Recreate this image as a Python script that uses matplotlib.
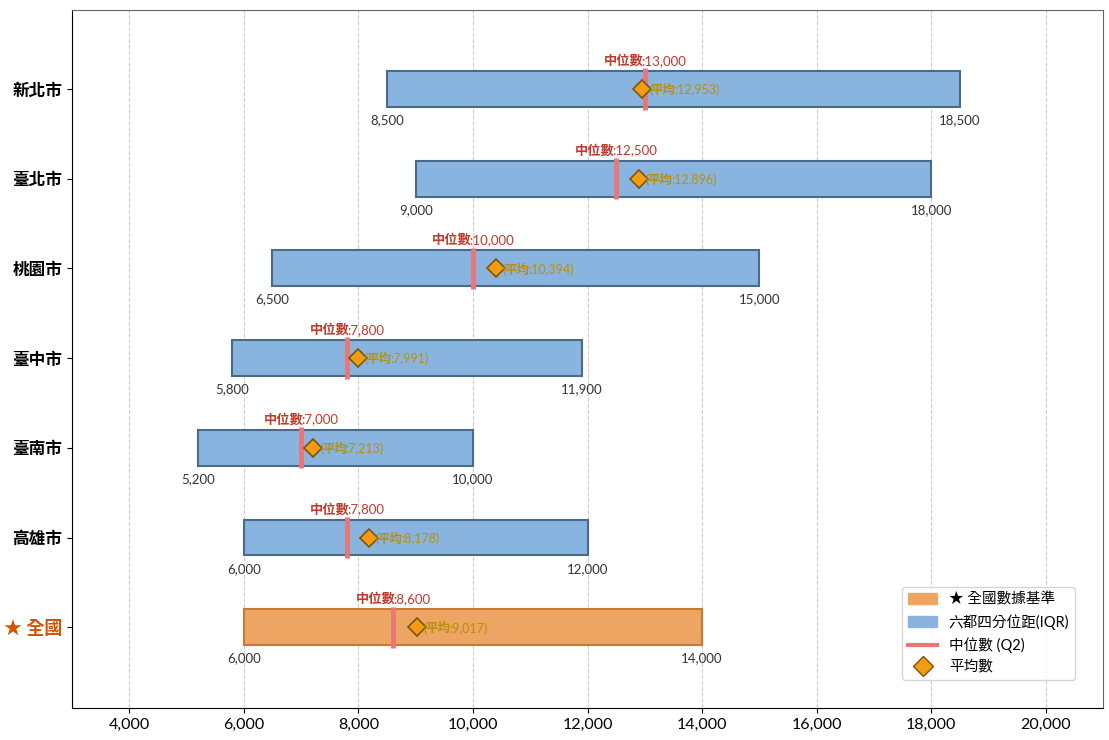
import matplotlib
matplotlib.use("Agg")
import matplotlib.pyplot as plt
from matplotlib.patches import Patch
from matplotlib.lines import Line2D
from matplotlib.transforms import ScaledTranslation

plt.rcParams['font.family'] = ['Lato', 'Noto Sans CJK TC', 'DejaVu Sans']

regions = ['新北市', '臺北市', '桃園市', '臺中市', '臺南市', '高雄市', '★ 全國']
q1 = [8500, 9000, 6500, 5800, 5200, 6000, 6000]
median = [13000, 12500, 10000, 7800, 7000, 7800, 8600]
q3 = [18500, 18000, 15000, 11900, 10000, 12000, 14000]
mean = [12953, 12896, 10394, 7991, 7213, 8178, 9017]

blue_face = '#8ab4e0'
blue_edge = '#4a6a8c'
orange_face = '#eda564'
orange_edge = '#cc7a30'
med_color = '#e87777'
mean_face = '#f39c12'
mean_edge = '#7a5510'
med_text = '#c0392b'
mean_text = '#b8900b'

fig = plt.figure(figsize=(11.09, 7.40), dpi=100)
ax = fig.add_axes([72/1109, 32/740, 1031/1109, 698/740])
renderer = fig.canvas.get_renderer()


def multi_text(x, y, parts, ha='left', va='baseline', dx_px=0.0, gap_px=-2.5, **common):
    texts = []
    for s, kw in parts:
        kk = dict(common)
        kk.update(kw)
        t = ax.text(x, y, s, ha='left', va=va, **kk)
        texts.append(t)
    widths = [t.get_window_extent(renderer=renderer).width for t in texts]
    total = sum(widths) + gap_px * (len(widths) - 1)
    start = dx_px - (total / 2.0 if ha == 'center' else 0.0)
    off = start
    for t, w in zip(texts, widths):
        t.set_transform(ax.transData + ScaledTranslation(off / fig.dpi, 0, fig.dpi_scale_trans))
        off += w + gap_px
    return texts


h = 0.4
ax.set_xlim(3000, 21000)
ax.set_ylim(6.9, -0.88)
for i, r in enumerate(regions):
    is_nat = r.startswith('★')
    fc = orange_face if is_nat else blue_face
    ec = orange_edge if is_nat else blue_edge
    ax.barh(i, q3[i] - q1[i], left=q1[i], height=h, color=fc, edgecolor=ec,
            linewidth=1.5, zorder=2)
    ax.plot([median[i], median[i]], [i - 0.23, i + 0.23], color=med_color,
            linewidth=3.5, zorder=3, solid_capstyle='butt')
    ax.plot(mean[i], i, marker='D', markersize=9.5, markerfacecolor=mean_face,
            markeredgecolor=mean_edge, markeredgewidth=1.2, linestyle='none', zorder=4)
    multi_text(mean[i], i, [('(', {}), ('平均', {'fontweight': 'bold'}),
                            (f':{mean[i]:,})', {})],
               ha='left', va='center_baseline', dx_px=7, gap_px=-1.5,
               fontsize=9, color=mean_text, zorder=5)
    multi_text(median[i], i - 0.27, [('中位數', {'fontweight': 'bold'}),
                                     (f':{median[i]:,}', {})],
               ha='center', va='baseline', gap_px=-2.5,
               fontsize=9.5, color=med_text, zorder=5)
    ax.text(q1[i], i + 0.28, f'{q1[i]:,}', ha='center', va='top', fontsize=9.5,
            color='#333333', zorder=5)
    ax.text(q3[i], i + 0.28, f'{q3[i]:,}', ha='center', va='top', fontsize=9.5,
            color='#333333', zorder=5)

ax.set_yticks(range(len(regions)))
ax.set_yticklabels(regions, fontsize=12, fontweight='bold')
for lbl in ax.get_yticklabels():
    if lbl.get_text().startswith('★'):
        lbl.set_color('#d35400')
        lbl.set_fontsize(13)
xt = list(range(4000, 20001, 2000))
ax.set_xticks(xt)
ax.set_xticklabels([f'{v:,}' for v in xt], fontsize=11.5)
ax.grid(axis='x', linestyle='--', color='#cccccc', linewidth=0.8, zorder=0)
ax.set_axisbelow(True)
for s in ['top', 'right']:
    ax.spines[s].set_color('#666666')

handles = [
    Patch(facecolor=orange_face, edgecolor=orange_face, label='★ 全國數據基準'),
    Patch(facecolor=blue_face, edgecolor=blue_face, label='六都四分位距(IQR)'),
    Line2D([0], [0], color=med_color, linewidth=3, label='中位數 (Q2)'),
    Line2D([0], [0], marker='D', markersize=10, markerfacecolor=mean_face,
           markeredgecolor=mean_edge, linestyle='none', label='平均數'),
]
ax.legend(handles=handles, loc='lower right', fontsize=10.5, frameon=True,
          bbox_to_anchor=(0.98, 0.03))

fig.savefig('out.png', dpi=100)
